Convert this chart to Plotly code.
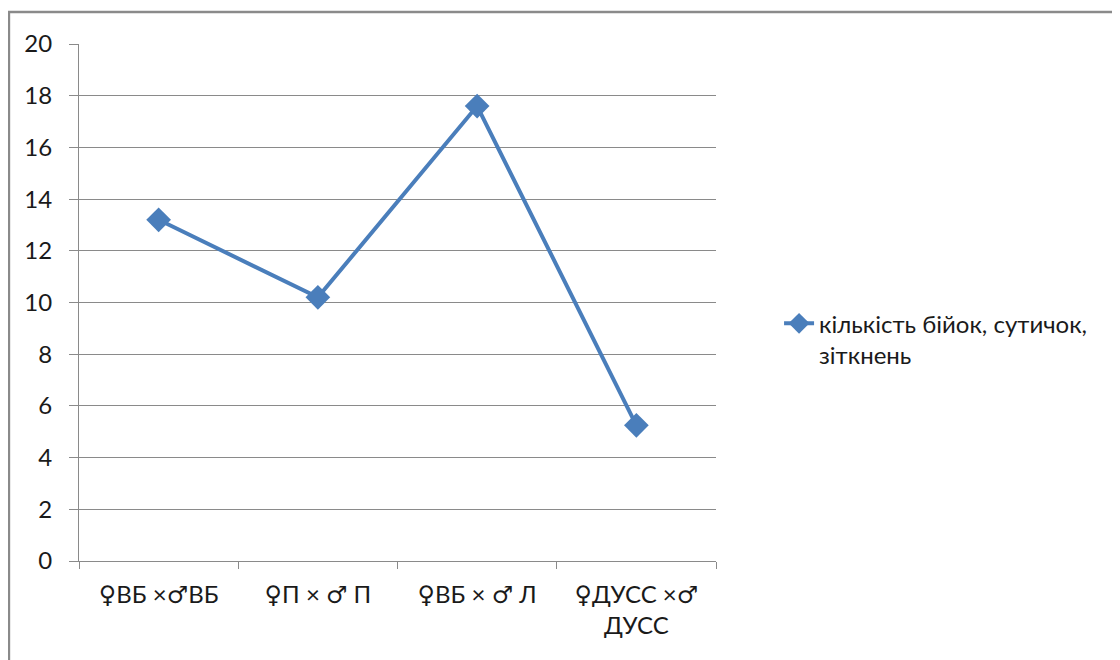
import plotly.graph_objects as go

categories = ["♀ВБ ×♂ВБ", "♀П × ♂ П", "♀ВБ × ♂ Л", "♀ДУСС ×♂<br>ДУСС"]
values = [13.2, 10.2, 17.6, 5.25]
series_name = "кількість бійок, сутичок,<br>зіткнень"
y_ticks = [0, 2, 4, 6, 8, 10, 12, 14, 16, 18, 20]

FONT = "Lato, 'Noto Sans', 'DejaVu Sans', sans-serif"
GRID = "#8a8a8a"

fig = go.Figure()
fig.add_trace(go.Scatter(
    x=categories, y=values, name=series_name, mode="lines+markers",
    line=dict(color="#4a7ebb", width=4),
    marker=dict(symbol="diamond", size=19, color="#4a7ebb"),
    showlegend=True,
))

fig.update_layout(
    width=1120, height=660,
    margin=dict(l=71, r=412, t=36, b=107),
    paper_bgcolor="white", plot_bgcolor="white",
    font=dict(family=FONT, size=24, color="#1a1a1a"),
    xaxis=dict(
        type="category", showgrid=False, showline=True, linecolor=GRID, linewidth=1,
        ticks="outside", tickson="boundaries", ticklen=7, tickcolor=GRID,
        tickfont=dict(size=24), range=[-0.5, 3.5], ticklabelstandoff=12,
    ),
    yaxis=dict(
        range=[0, 20], tickvals=y_ticks, showgrid=True, gridcolor=GRID, gridwidth=1,
        showline=True, linecolor=GRID, linewidth=1, ticks="outside", ticklen=9,
        tickcolor=GRID, tickfont=dict(size=24), zeroline=False, ticklabelstandoff=12,
    ),
    legend=dict(x=1.099, y=0.429, xanchor="left", yanchor="middle", valign="top",
                font=dict(size=24), bgcolor="rgba(0,0,0,0)"),
    shapes=[dict(type="rect", xref="paper", yref="paper",
                 x0=-0.11, x1=1.7, y0=-0.4, y1=1.062,
                 line=dict(color="#8a8a8a", width=2.5), layer="below")],
)

fig.write_html("out.html")
